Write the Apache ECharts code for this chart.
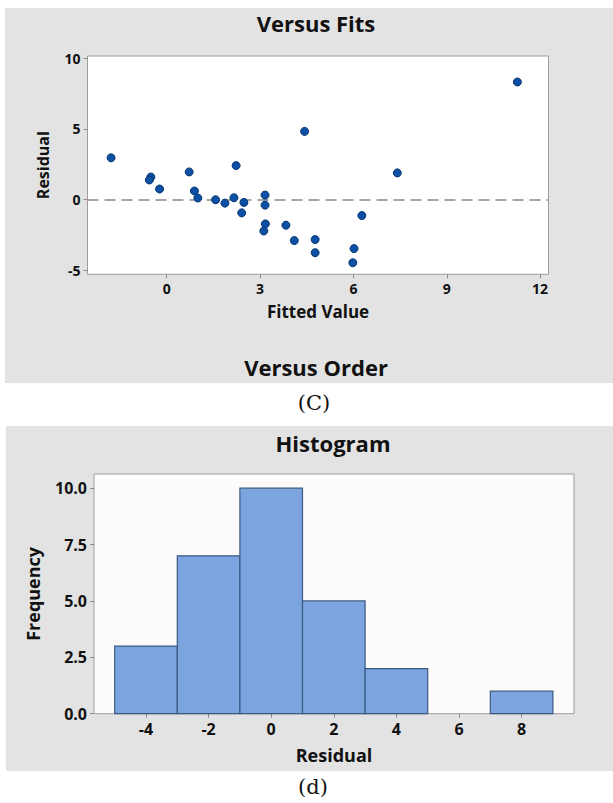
<!DOCTYPE html>
<html>
<head>
<meta charset="utf-8">
<title>Residual plots</title>
<script src="https://cdn.jsdelivr.net/npm/echarts@6/dist/echarts.min.js"></script>
<style>
  html, body { margin: 0; padding: 0; background: #ffffff; }
  #chart { width: 613px; height: 803px; }
</style>
</head>
<body>
<div id="chart"></div>
<script>
// Residuals against fitted values
const fittedValues = [-1.79, -0.51, -0.56, -0.23, 0.72, 0.89, 1.00, 1.57, 1.87, 2.16, 2.23, 2.48, 2.41,
  3.16, 3.16, 3.17, 3.12, 3.83, 4.10, 4.43, 4.77, 4.77, 6.02, 5.98, 6.27, 7.41, 11.27];
const residuals = [2.95, 1.59, 1.38, 0.74, 1.95, 0.60, 0.10, -0.02, -0.26, 0.12, 2.40, -0.21, -0.95,
  0.31, -0.40, -1.73, -2.23, -1.82, -2.91, 4.82, -2.84, -3.77, -3.48, -4.48, -1.14, 1.88, 8.32];

// Histogram of residuals (bins of width 2)
const binStart = [-5, -3, -1, 1, 3, 5, 7];
const binEnd = [-3, -1, 1, 3, 5, 7, 9];
const frequency = [3, 7, 10, 5, 2, 0, 1];

// Tick labels
const fitsXTicks = [0, 3, 6, 9, 12];
const fitsYTicks = [-5, 0, 5, 10];
const histXTicks = [-4, -2, 0, 2, 4, 6, 8];
const histYTicks = [0, 2.5, 5, 7.5, 10];

const FONT = '"Open Sans", "DejaVu Sans", sans-serif';
const SERIF = '"DejaVu Serif", "Liberation Serif", serif';
const INK = '#111111';
const PANEL = '#e3e3e3';
const FRAME = '#9c9c9c';
const TICK = '#8a8a8a';

function tickLabel(size) {
  return { fontFamily: FONT, fontSize: size, fontWeight: 'bold', color: INK };
}
function axisTitle(size) {
  return { fontFamily: FONT, fontSize: size, fontWeight: 'bold', color: INK };
}
function headText(x, y, text, size, family, weight) {
  return {
    type: 'text', x: x, y: y, silent: true, z: 50,
    style: {
      text: text, font: (weight || 'bold') + ' ' + size + 'px ' + (family || FONT),
      fill: INK, align: 'center', verticalAlign: 'middle'
    }
  };
}
function valueAxis(gridIndex, min, max, ticks, labelSize, extraLabel) {
  return {
    gridIndex: gridIndex, type: 'value', min: min, max: max,
    axisLine: { show: false, onZero: false }, splitLine: { show: false },
    axisTick: { show: true, customValues: ticks, length: 4, lineStyle: { color: TICK } },
    axisLabel: Object.assign({ customValues: ticks, margin: 7 }, tickLabel(labelSize), extraLabel || {})
  };
}

const chart = echarts.init(document.getElementById('chart'), null, { renderer: 'svg' });

chart.setOption({
  animation: false,
  backgroundColor: '#ffffff',
  graphic: [
    { type: 'rect', z: -10, silent: true, shape: { x: 5, y: 8, width: 608, height: 375 }, style: { fill: PANEL } },
    { type: 'rect', z: -10, silent: true, shape: { x: 6, y: 426, width: 607, height: 345 }, style: { fill: PANEL } },
    headText(316, 23, 'Versus Fits', 22),
    headText(316, 367, 'Versus Order', 22),
    headText(314, 403, '(C)', 21, SERIF, 'normal'),
    headText(333, 443, 'Histogram', 22),
    headText(313, 787, '(d)', 21, SERIF, 'normal')
  ],
  grid: [
    { left: 87.5, top: 56, width: 461, height: 218.3, show: true, backgroundColor: '#ffffff',
      borderColor: FRAME, borderWidth: 1, containLabel: false },
    { left: 94, top: 474, width: 480, height: 239.7, show: true, backgroundColor: '#fdfcfb',
      borderColor: FRAME, borderWidth: 1, containLabel: false }
  ],
  xAxis: [
    Object.assign(valueAxis(0, -2.547, 12.27, fitsXTicks, 14), {
      name: 'Fitted Value', nameLocation: 'middle', nameGap: 29, nameTextStyle: axisTitle(17)
    }),
    Object.assign(valueAxis(1, -5.661, 9.674, histXTicks, 16), {
      name: 'Residual', nameLocation: 'middle', nameGap: 32, nameTextStyle: axisTitle(18)
    })
  ],
  yAxis: [
    Object.assign(valueAxis(0, -5.30, 10.16, fitsYTicks, 14), {
      name: 'Residual', nameLocation: 'middle', nameRotate: 90, nameGap: 37, nameTextStyle: axisTitle(16)
    }),
    Object.assign(valueAxis(1, 0, 10.63, histYTicks, 16,
      { formatter: function (v) { return Number(v).toFixed(1); } }), {
      name: 'Frequency', nameLocation: 'middle', nameRotate: 90, nameGap: 52, nameTextStyle: axisTitle(18)
    })
  ],
  series: [
    {
      type: 'scatter', xAxisIndex: 0, yAxisIndex: 0, z: 5,
      data: fittedValues.map(function (f, i) { return [f, residuals[i]]; }),
      symbol: 'circle', symbolSize: 8,
      itemStyle: { color: '#0c50a6', borderColor: '#0a3670', borderWidth: 1, opacity: 1 },
      markLine: {
        silent: true, symbol: ['none', 'none'], label: { show: false },
        lineStyle: { color: '#a6a6a6', width: 2, type: [11, 6] },
        data: [{ yAxis: 0 }]
      }
    },
    {
      type: 'custom', xAxisIndex: 1, yAxisIndex: 1, z: 5,
      data: binStart.map(function (s, i) { return [s, binEnd[i], frequency[i]]; }),
      encode: { x: [0, 1], y: 2 },
      renderItem: function (params, api) {
        const lo = api.value(0), hi = api.value(1), f = api.value(2);
        if (!f) { return; }
        const top = api.coord([lo, f]);
        const base = api.coord([hi, 0]);
        return {
          type: 'rect',
          shape: { x: top[0], y: top[1], width: base[0] - top[0], height: base[1] - top[1] },
          style: { fill: '#7ca4df', stroke: '#3b5a82', lineWidth: 1.2 }
        };
      }
    }
  ]
});
</script>
</body>
</html>
